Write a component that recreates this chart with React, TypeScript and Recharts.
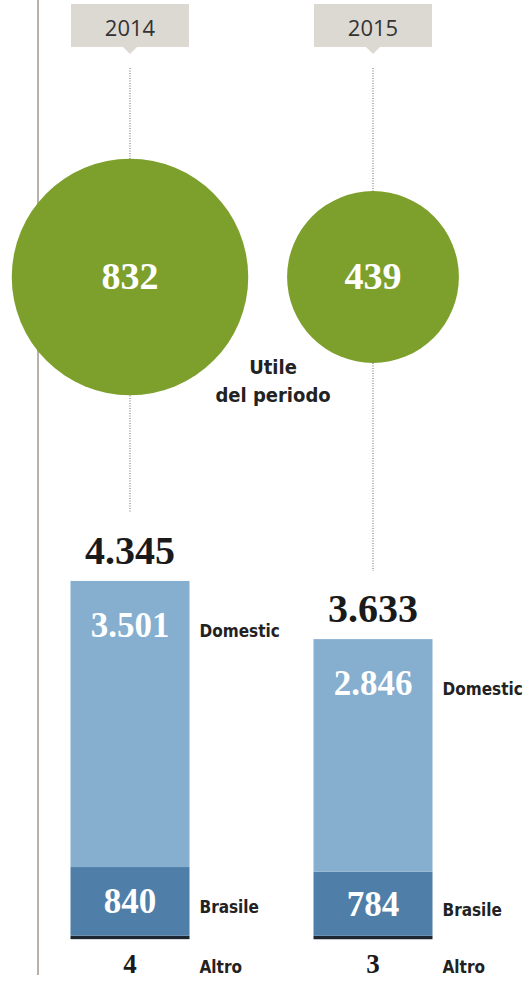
import React from 'react'
import { ComposedChart, Bar, Scatter, XAxis, YAxis, ZAxis } from 'recharts'

// dati (milioni di euro)
const YEARS = ['2014', '2015']
const UTILE = [832, 439]
const DOMESTIC = [3501, 2846]
const BRASILE = [840, 784]
const ALTRO = [4, 3]

const fmt = (n: number) => String(n).replace(/\B(?=(\d{3})+(?!\d))/g, '.')

const data = YEARS.map((year, i) => ({
  year,
  utile: UTILE[i],
  domestic: DOMESTIC[i],
  brasile: BRASILE[i],
  altro: ALTRO[i],
  total: DOMESTIC[i] + BRASILE[i] + ALTRO[i],
}))

const SERIF = '"Liberation Serif", "Times New Roman", serif'
const SANS = '"DejaVu Sans Condensed", "DejaVu Sans", sans-serif'

function YearTick({ x, payload }: any) {
  return (
    <g>
      <rect x={x - 59} y={4} width={118} height={43} fill="#dcd8d2" />
      <polygon points={`${x - 7},47 ${x + 7},47 ${x},54`} fill="#dcd8d2" />
      <text x={x} y={36} textAnchor="middle" fontSize={22} fontFamily='"Open Sans", sans-serif' fill="#333">
        {payload.value}
      </text>
    </g>
  )
}

function Bubble(props: any) {
  const { cx, cy, width, payload } = props
  return (
    <g>
      <circle cx={cx} cy={cy} r={width / 2} fill="#7d9f2b" />
      <text x={cx} y={cy + 12} textAnchor="middle" fontFamily={SERIF} fontWeight="bold" fontSize={38} fill="#fff">
        {fmt(payload.utile)}
      </text>
    </g>
  )
}

function DomesticShape(props: any) {
  const { x, y, width, height, payload } = props
  const cx = x + width / 2
  return (
    <g>
      <line x1={cx} x2={cx} y1={68} y2={y - 68} stroke="#8a8a8a" strokeWidth={1.3} strokeDasharray="1 1.5" />
      <rect x={x} y={y} width={width} height={height} fill="#85aecf" />
      <text x={cx} y={y - 17} textAnchor="middle" fontFamily={SERIF} fontWeight="bold" fontSize={40} fill="#1a1a1a">
        {fmt(payload.total)}
      </text>
      <text x={cx} y={y + 56} textAnchor="middle" fontFamily={SERIF} fontWeight="bold" fontSize={35} fill="#fff">
        {fmt(payload.domestic)}
      </text>
      <text x={x + width + 10} y={y + 56} fontFamily={SANS} fontWeight="bold" fontSize={17} fill="#222">
        Domestic
      </text>
    </g>
  )
}

function BrasileShape(props: any) {
  const { x, y, width, height, payload } = props
  const cx = x + width / 2
  const mid = y + height / 2
  return (
    <g>
      <rect x={x} y={y} width={width} height={height} fill="#4f7fa9" />
      <text x={cx} y={mid + 12} textAnchor="middle" fontFamily={SERIF} fontWeight="bold" fontSize={35} fill="#fff">
        {fmt(payload.brasile)}
      </text>
      <text x={x + width + 10} y={mid + 12} fontFamily={SANS} fontWeight="bold" fontSize={17} fill="#222">
        Brasile
      </text>
    </g>
  )
}

function AltroShape(props: any) {
  const { x, y, width, height, payload } = props
  const cx = x + width / 2
  const base = y + height
  return (
    <g>
      <rect x={x} y={y} width={width} height={3.5} fill="#1d2733" />
      <text x={cx} y={base + 37} textAnchor="middle" fontFamily={SERIF} fontWeight="bold" fontSize={27} fill="#1a1a1a">
        {fmt(payload.altro)}
      </text>
      <text x={x + width + 10} y={base + 37} fontFamily={SANS} fontWeight="bold" fontSize={17} fill="#222">
        Altro
      </text>
    </g>
  )
}

export default function App() {
  return (
    <div style={{ position: 'absolute', left: 0, top: 0, width: 532, height: 983, background: '#fff' }}>
      <div style={{ position: 'absolute', left: 37, top: 0, width: 2, height: 975, background: '#b7b1a9' }} />
      <ComposedChart
        width={532}
        height={983}
        data={data}
        margin={{ top: 0, right: 37.5, bottom: 47, left: 8.5 }}
      >
        <XAxis
          dataKey="year"
          orientation="top"
          height={60}
          axisLine={false}
          tickLine={false}
          interval={0}
          tick={<YearTick />}
        />
        <YAxis yAxisId="bar" hide domain={[0, 10720]} />
        <YAxis yAxisId="bubble" hide domain={[-659, 217]} allowDataOverflow />
        <ZAxis dataKey="utile" domain={[0, 1000]} range={[0, 52800]} />
        <Bar dataKey="altro" stackId="s" yAxisId="bar" barSize={119} shape={<AltroShape />} isAnimationActive={false} />
        <Bar dataKey="brasile" stackId="s" yAxisId="bar" barSize={119} shape={<BrasileShape />} isAnimationActive={false} />
        <Bar dataKey="domestic" stackId="s" yAxisId="bar" barSize={119} shape={<DomesticShape />} isAnimationActive={false} />
        <Scatter yAxisId="bubble" dataKey={() => 0} shape={<Bubble />} isAnimationActive={false} />
      </ComposedChart>
      <div
        style={{
          position: 'absolute',
          left: 203,
          top: 353,
          width: 140,
          textAlign: 'center',
          fontFamily: SANS,
          fontWeight: 'bold',
          fontSize: 20,
          lineHeight: '28px',
          color: '#222',
        }}
      >
        Utile
        <br />
        del periodo
      </div>
    </div>
  )
}
